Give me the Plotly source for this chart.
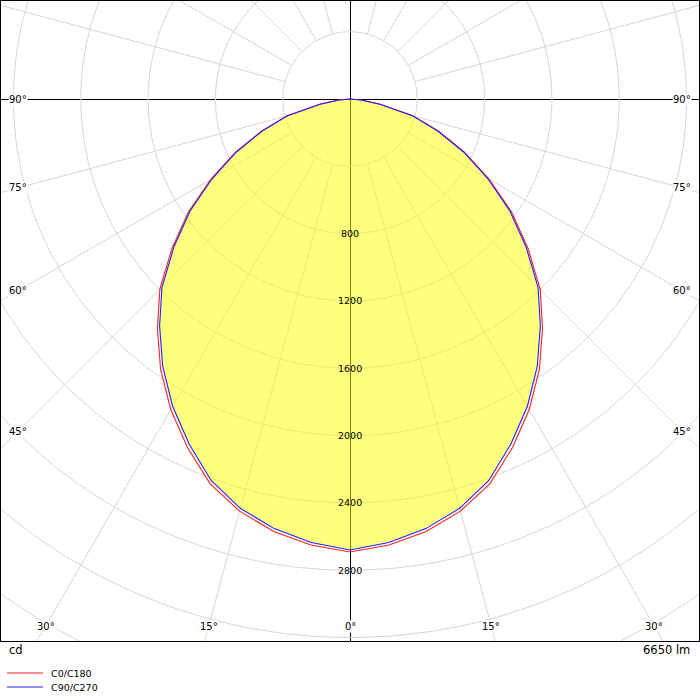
import numpy as np
import plotly.graph_objects as go

# gamma angles (deg from nadir) and luminous intensity (cd)
angles = [0, 5, 10, 15, 20, 25, 30, 35, 40, 45, 50, 55, 60, 65, 70, 75, 80, 85, 90]
c0_c180 = [2692, 2660, 2610, 2535, 2432, 2285, 2130, 1962, 1780, 1598,
           1380, 1172, 955, 752, 560, 388, 185, 68, 0]
c90_c270 = [2680, 2645, 2592, 2518, 2412, 2262, 2108, 1940, 1760, 1580,
            1365, 1160, 945, 745, 555, 385, 182, 66, 0]

grid_radii = [400, 800, 1200, 1600, 2000, 2400, 2800, 3200, 3600, 4000]
radius_labels = [800, 1200, 1600, 2000, 2400, 2800]
side_angles = [45, 60, 75, 90]
bottom_angles = [0, 15, 30]
flux_text = '6650 lm'
unit_text = 'cd'

FONT = 'DejaVu Sans'
PX = 0.1683            # pixels per candela
W, H = 700, 700
M_L, M_R, M_T, M_B = 1, 1, 1, 59
plot_w = W - M_L - M_R
plot_h = H - M_T - M_B
x_half = (plot_w / 2) / PX
y_top = 98 / PX
y_bot = y_top - plot_h / PX


def to_xy(vals):
    # mirror the half plane so the curve runs from -90 through 0 to +90
    th = np.radians([-a for a in angles[::-1]] + angles[1:])
    r = np.array(vals[::-1] + vals[1:], dtype=float)
    return r * np.sin(th), -r * np.cos(th)


fig = go.Figure()

# polar grid: circles
gx, gy = [], []
t = np.linspace(0, 2 * np.pi, 361)
for rr in grid_radii:
    gx += list(rr * np.cos(t)) + [None]
    gy += list(rr * np.sin(t)) + [None]
# radial lines every 15 deg, starting at the first circle
for a in range(0, 360, 15):
    if a % 90 == 0:
        continue
    th = np.radians(a)
    gx += [grid_radii[0] * np.sin(th), 5000 * np.sin(th), None]
    gy += [-grid_radii[0] * np.cos(th), -5000 * np.cos(th), None]
fig.add_trace(go.Scatter(x=gx, y=gy, mode='lines', line=dict(color='#d6d6d6', width=1),
                         hoverinfo='skip', showlegend=False))

# yellow area
fx, fy = to_xy(c90_c270)
fig.add_trace(go.Scatter(x=fx, y=fy, mode='lines', fill='toself',
                         fillcolor='rgba(255,255,0,0.5)', line=dict(width=0),
                         hoverinfo='skip', showlegend=False))

rx, ry = to_xy(c0_c180)
fig.add_trace(go.Scatter(x=rx, y=ry, mode='lines', name='C0/C180',
                         line=dict(color='#ff2020', width=1.1), showlegend=False))
bx, by = to_xy(c90_c270)
fig.add_trace(go.Scatter(x=bx, y=by, mode='lines', name='C90/C270',
                         line=dict(color='#2020ff', width=1.1), showlegend=False))

annotations = []
for rr in radius_labels:
    annotations.append(dict(x=0, y=-rr, text=str(rr), showarrow=False,
                            font=dict(family=FONT, size=9.5, color='black')))

inset = 17 / PX
for a in side_angles:
    xe = x_half - inset
    ye = -xe / np.tan(np.radians(a)) if a != 90 else 0
    for s in (-1, 1):
        annotations.append(dict(x=s * xe, y=ye, text=f'{a}°', showarrow=False,
                                bgcolor='white', borderpad=0,
                                font=dict(family=FONT, size=10, color='black')))
yb = y_bot + 15 / PX
for a in bottom_angles:
    xe = -yb * np.tan(np.radians(a))
    for s in ((1,) if a == 0 else (-1, 1)):
        annotations.append(dict(x=s * xe, y=yb, text=f'{a}°', showarrow=False,
                                bgcolor='white', borderpad=0,
                                font=dict(family=FONT, size=10, color='black')))


def px_x(p):
    return (p - M_L) / plot_w


def px_y(p):
    return (H - M_B - p) / plot_h


annotations.append(dict(xref='paper', yref='paper', x=px_x(7), y=px_y(650), text=unit_text,
                        xanchor='left', yanchor='middle', showarrow=False,
                        font=dict(family=FONT, size=11.5, color='black')))
annotations.append(dict(xref='paper', yref='paper', x=px_x(692), y=px_y(650), text=flux_text,
                        xanchor='right', yanchor='middle', showarrow=False,
                        font=dict(family=FONT, size=11.5, color='black')))

shapes = []
for name, col, py in [('C0/C180', '#ff2020', 673), ('C90/C270', '#2020ff', 687)]:
    shapes.append(dict(type='line', xref='paper', yref='paper', x0=px_x(7), x1=px_x(43),
                       y0=px_y(py), y1=px_y(py), line=dict(color=col, width=1)))
    annotations.append(dict(xref='paper', yref='paper', x=px_x(49), y=px_y(py), text=name,
                            xanchor='left', yanchor='middle', showarrow=False,
                            font=dict(family=FONT, size=9.5, color='black')))

fig.update_layout(width=W, height=H, margin=dict(l=M_L, r=M_R, t=M_T, b=M_B),
                  paper_bgcolor='white', plot_bgcolor='white',
                  annotations=annotations, shapes=shapes)
fig.update_xaxes(range=[-x_half, x_half], showgrid=False, showticklabels=False, ticks='',
                 zeroline=True, zerolinecolor='black', zerolinewidth=1,
                 showline=True, mirror=True, linecolor='black', linewidth=1)
fig.update_yaxes(range=[y_bot, y_top], showgrid=False, showticklabels=False, ticks='',
                 zeroline=True, zerolinecolor='black', zerolinewidth=1,
                 showline=True, mirror=True, linecolor='black', linewidth=1)

# the page's default body margin would push the 700px figure off the window
fig.write_html("out.html", config={'displayModeBar': False},
               post_script="document.body.style.margin='0px';")
